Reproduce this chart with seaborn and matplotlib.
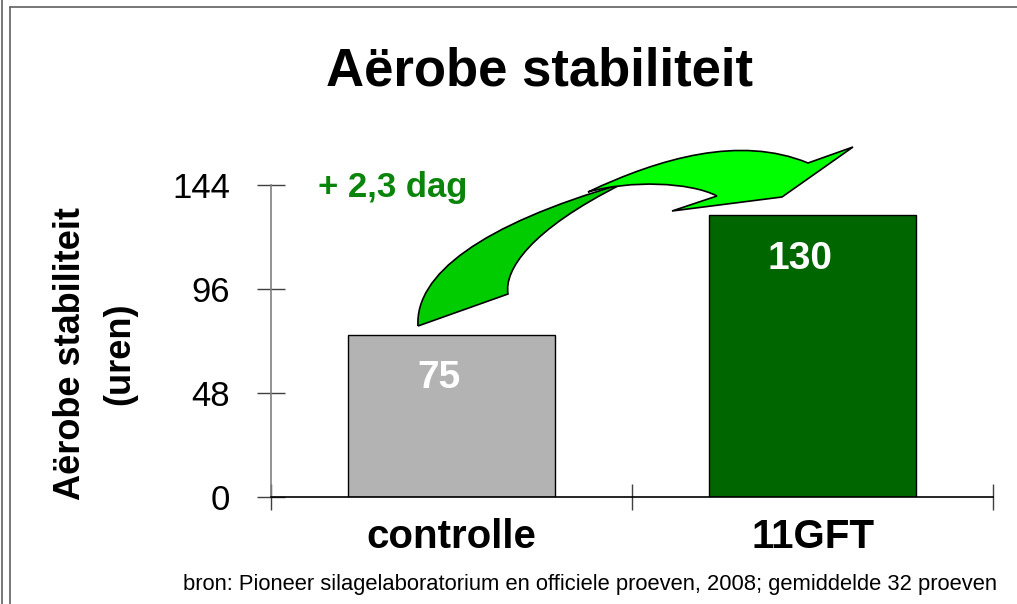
import matplotlib

matplotlib.use("Agg")

import matplotlib.pyplot as plt  # noqa: E402
import seaborn as sns  # noqa: E402
from matplotlib.lines import Line2D  # noqa: E402
from matplotlib.patches import PathPatch  # noqa: E402
from matplotlib.path import Path  # noqa: E402

# Datos
categorias = ["controlle", "11GFT"]
uren = [75, 130]
kleuren = ["#B3B3B3", "#006600"]
yticks = [0, 48, 96, 144]

W, H = 1017, 604

sns.set_theme(style="white")
plt.rcParams["font.family"] = ["Liberation Sans", "DejaVu Sans"]
plt.rcParams.update({"text.color": "black", "axes.labelcolor": "black",
                     "xtick.color": "black", "ytick.color": "black"})

fig = plt.figure(figsize=(W / 100, H / 100), dpi=100)
ax = fig.add_axes([271 / W, 1 - 497 / H, (993 - 271) / W, (497 - 185) / H])

sns.barplot(
    x=categorias, y=uren, hue=categorias, palette=kleuren, legend=False,
    width=0.575, edgecolor="black", linewidth=1.0, saturation=1, ax=ax,
)
ax.set_xlim(-0.5, 1.5)
ax.set_ylim(0, 144)

# Etiquetas dentro de las barras
for i, v in enumerate(uren):
    ax.text(i - 0.035, v - 20, str(v), ha="center", va="center",
            color="white", fontsize=28, fontweight="bold")

# Ejes: ticks mayores en los bordes de categoría, etiquetas en ticks menores
ax.set_xticks([-0.5, 0.5, 1.5])
ax.set_xticklabels([])
ax.set_xticks([0, 1], minor=True)
ax.set_xticklabels(categorias, minor=True, fontsize=29, fontweight="bold")
ax.tick_params(axis="x", which="major", direction="inout", length=19,
               width=1, color="#404040", bottom=True)
ax.tick_params(axis="x", which="minor", length=0, pad=15, bottom=True,
               labelcolor="black")
ax.set_yticks(yticks)
ax.tick_params(axis="y", direction="inout", length=20, width=1,
               color="#404040", labelsize=25, pad=19.5, left=True,
               labelcolor="black")
ax.set_xlabel("")
ax.set_ylabel("")
for s in ("top", "right"):
    ax.spines[s].set_visible(False)
ax.spines["left"].set_color("#808080")
ax.spines["left"].set_linewidth(1.2)
ax.spines["bottom"].set_color("black")
ax.spines["bottom"].set_linewidth(1.2)


def px(x, y):
    # píxeles de la imagen -> fracción de figura
    return (x / W, 1 - y / H)


fig.suptitle("Aërobe stabiliteit", x=539 / W, y=1 - 85 / H, va="baseline",
             fontsize=38, fontweight="bold", color="black")
fig.text(95 / W, 1 - 354 / H, "Aërobe stabiliteit\n(uren)", rotation=90,
         ha="center", va="center", multialignment="center", linespacing=1.55,
         fontsize=26, fontweight="bold", color="black")
fig.text(318 / W, 1 - 197 / H, "+ 2,3 dag", ha="left", va="baseline",
         color="#0A840A", fontsize=25, fontweight="bold")
fig.text(183 / W, 1 - 590 / H,
         "bron: Pioneer silagelaboratorium en officiele proeven, 2008; "
         "gemiddelde 32 proeven",
         ha="left", va="baseline", fontsize=15.8, color="black")

# Flecha curva: parte trasera (verde oscuro) y delantera (verde claro)
M, C, L = Path.MOVETO, Path.CURVE4, Path.LINETO
back = [
    ((418, 326), M),
    ((415, 275), C), ((480, 225), C), ((622, 184), C),
    ((530, 230), C), ((504, 270), C), ((508, 294), C),
    ((418, 326), L),
]
front = [
    ((588, 192), M),
    ((660, 158), C), ((740, 135), C), ((808, 163), C),
    ((853, 147), L), ((782, 197), L), ((672, 211), L), ((717, 196), L),
    ((690, 182), C), ((630, 180), C), ((588, 192), C),
]
for pts, face in ((back, "#00CC00"), (front, "#00FF00")):
    path = Path([px(*p) for p, _ in pts], [c for _, c in pts])
    fig.add_artist(PathPatch(path, facecolor=face, edgecolor="black",
                             linewidth=1.2, transform=fig.transFigure))

# Marco exterior de la diapositiva
for xs, ys in (((2, 2), (0, H)), ((9.5, 9.5), (7, H)), ((9.5, W), (7, 7))):
    a, b = px(xs[0], ys[0]), px(xs[1], ys[1])
    fig.add_artist(Line2D([a[0], b[0]], [a[1], b[1]], color="#606060",
                          linewidth=1.2, transform=fig.transFigure))

fig.savefig("out.png", dpi=100)
plt.close(fig)
